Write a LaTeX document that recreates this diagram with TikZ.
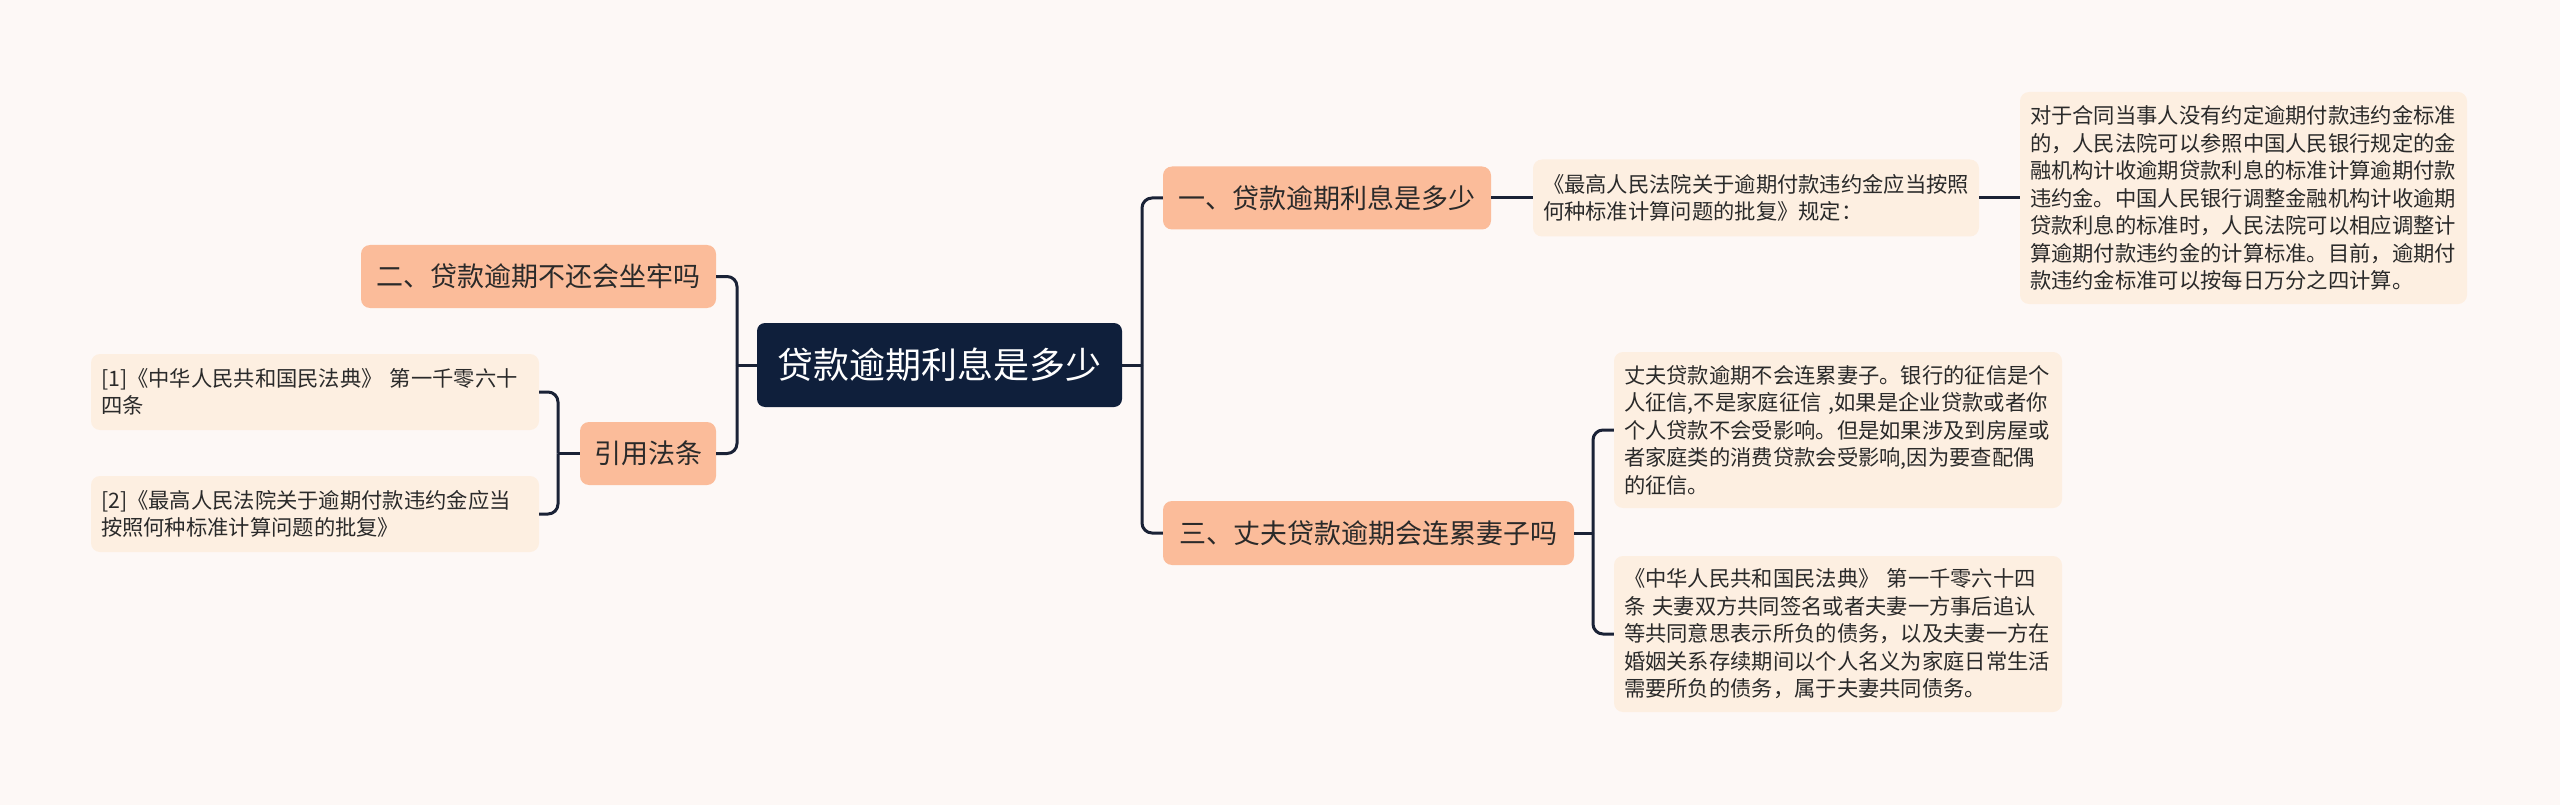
\documentclass[tikz,border=0pt]{standalone}
\usepackage{fontspec}
\newfontfamily\cjk{Noto Sans CJK SC}
\usetikzlibrary{calc}
\definecolor{bgc}{HTML}{FDF8F6}
\definecolor{rootc}{HTML}{0F1F3B}
\definecolor{branchc}{HTML}{FBBC9A}
\definecolor{leafc}{HTML}{FDEFE1}
\definecolor{linec}{HTML}{1A2236}
\definecolor{txtc}{HTML}{2A2A2A}
\tikzset{
  rootbox/.style={fill=rootc, rounded corners=8pt, text=white, inner sep=0pt,
    font=\cjk\fontsize{36}{42}\selectfont},
  branchbox/.style={fill=branchc, rounded corners=9pt, text=txtc, inner sep=0pt,
    font=\cjk\fontsize{27}{32}\selectfont},
  leafbox/.style={fill=leafc, rounded corners=9pt, text=txtc, inner xsep=10pt, inner ysep=0pt,
    align=left, text width=428pt, minimum width=448pt,
    font=\cjk\fontsize{21.3}{27.5}\selectfont},
  conn/.style={draw=linec, line width=3pt, rounded corners=10pt},
}
\begin{document}
\begin{tikzpicture}[x=1pt,y=-1pt]
\useasboundingbox (0,0) rectangle (2560,805);
\fill[bgc] (0,0) rectangle (2560,805);

% root
\node[rootbox, minimum width=365pt, minimum height=84pt] (C) at (939.5,365) {贷款逾期利息是多少};

% right branches
\node[branchbox, minimum width=328pt, minimum height=63pt] (B1) at (1327,198) {一、贷款逾期利息是多少};
\node[branchbox, minimum width=411pt, minimum height=64pt] (B3) at (1368.5,533) {三、丈夫贷款逾期会连累妻子吗};

% left branches
\node[branchbox, minimum width=355pt, minimum height=63pt] (B2) at (538.5,276.5) {二、贷款逾期不还会坐牢吗};
\node[branchbox, minimum width=136pt, minimum height=63pt] (B4) at (648,453.5) {引用法条};

% leaves of B1
\node[leafbox, text width=426pt, minimum width=446pt, minimum height=77pt] (R1) at (1756,198) {《最高人民法院关于逾期付款违约金应当按照\\何种标准计算问题的批复》规定：};
\node[leafbox, text width=427pt, minimum width=447pt, minimum height=212pt] (R2) at (2243.5,198) {对于合同当事人没有约定逾期付款违约金标准\\的，人民法院可以参照中国人民银行规定的金\\融机构计收逾期贷款利息的标准计算逾期付款\\违约金。中国人民银行调整金融机构计收逾期\\贷款利息的标准时，人民法院可以相应调整计\\算逾期付款违约金的计算标准。目前，逾期付\\款违约金标准可以按每日万分之四计算。};

% leaves of B3
\node[leafbox, minimum height=156pt] (R3) at (1838,430) {丈夫贷款逾期不会连累妻子。银行的征信是个\\人征信,不是家庭征信 ,如果是企业贷款或者你\\个人贷款不会受影响。但是如果涉及到房屋或\\者家庭类的消费贷款会受影响,因为要查配偶\\的征信。};
\node[leafbox, minimum height=156pt] (R4) at (1838,634) {《中华人民共和国民法典》 第一千零六十四\\条 夫妻双方共同签名或者夫妻一方事后追认\\等共同意思表示所负的债务，以及夫妻一方在\\婚姻关系存续期间以个人名义为家庭日常生活\\需要所负的债务，属于夫妻共同债务。};

% leaves of B4
\node[leafbox, minimum height=76pt] (L1) at (315,392) {[1]《中华人民共和国民法典》 第一千零六十\\四条};
\node[leafbox, minimum height=76pt] (L2) at (315,514) {[2]《最高人民法院关于逾期付款违约金应当\\按照何种标准计算问题的批复》};

% junctions
\coordinate (jR) at (1142,365);
\coordinate (jL) at (737,365);
\coordinate (jB3) at (1593,533);
\coordinate (jB4) at (558,453.5);

% connectors
\draw[conn] (C.east) -- (jR);
\draw[conn] (jR) |- (B1.west);
\draw[conn] (jR) |- (B3.west);
\draw[conn] (C.west) -- (jL);
\draw[conn] (jL) |- (B2.east);
\draw[conn] (jL) |- (B4.east);
\draw[conn] (B1.east) -- (R1.west);
\draw[conn] (R1.east) -- (R2.west);
\draw[conn] (B3.east) -- (jB3);
\draw[conn] (jB3) |- (R3.west);
\draw[conn] (jB3) |- (R4.west);
\draw[conn] (B4.west) -- (jB4);
\draw[conn] (jB4) |- (L1.east);
\draw[conn] (jB4) |- (L2.east);
\end{tikzpicture}
\end{document}
